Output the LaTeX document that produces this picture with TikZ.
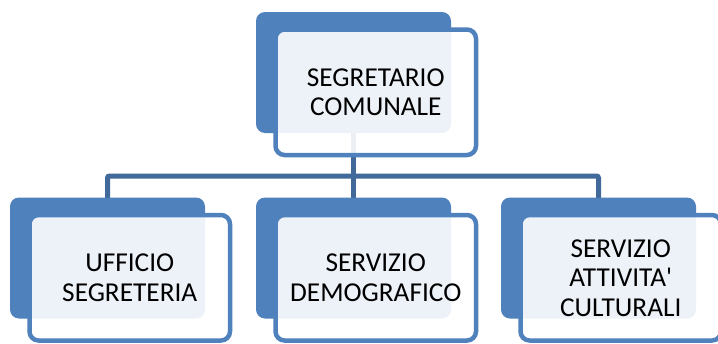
\documentclass[tikz,border=0pt]{standalone}
\usepackage{fontspec}
\setmainfont{Carlito}
\definecolor{backblue}{HTML}{4F81BD}
\definecolor{edgeblue}{HTML}{4F81BD}
\definecolor{connblue}{HTML}{41699A}
\tikzset{
  backbox/.style={rectangle, rounded corners=9pt, fill=backblue, draw=none,
    minimum width=195pt, minimum height=121pt, inner sep=0pt, outer sep=0pt},
  frontbox/.style={rectangle, rounded corners=9pt, fill=white, fill opacity=0.9,
    text opacity=1, draw=edgeblue, draw opacity=1, line width=4.5pt,
    minimum width=200.5pt, minimum height=125.5pt, inner sep=0pt, outer sep=0pt,
    align=center, font=\fontsize{27.3}{29.5}\selectfont},
  conn/.style={draw=connblue, line width=5pt}
}
\begin{document}
\begin{tikzpicture}[x=1pt,y=-1pt]
\clip (0,0) rectangle (718,343);
\fill[white] (0,0) rectangle (718,343);
% bus coordinate
\coordinate (bus) at (353.5,176);
% back box centres (boxes drawn after the connectors)
\path (353.5,72.5) coordinate (topc)
      (107.5,258) coordinate (lc)
      (353.5,258) coordinate (mc)
      (598.5,258) coordinate (rc);
% connectors
\draw[conn] (topc) -- (topc |- bus);
\draw[conn, rounded corners=2pt] (lc) |- (bus) -| (rc);
\draw[conn] (mc) -- (mc |- bus);
% back boxes
\node[backbox] (topb) at (topc) {};
\node[backbox] (lb) at (lc) {};
\node[backbox] (mb) at (mc) {};
\node[backbox] (rb) at (rc) {};
% front boxes
\node[frontbox] (topf) at (375.75,92.25) {SEGRETARIO\\COMUNALE};
\node[frontbox] (lf) at (129.75,277.75) {UFFICIO\\SEGRETERIA};
\node[frontbox] (mf) at (375.75,277.75) {SERVIZIO\\DEMOGRAFICO};
\node[frontbox] (rf) at (620.75,277.75) {SERVIZIO\\ATTIVITA\textquotesingle\\CULTURALI};
\end{tikzpicture}
\end{document}
